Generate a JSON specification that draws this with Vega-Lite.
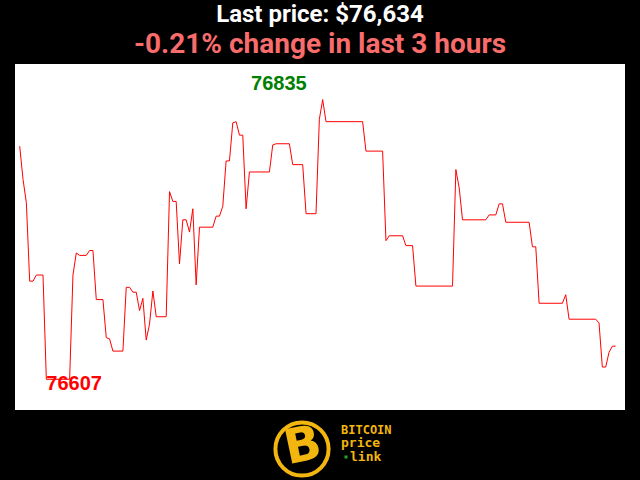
{
  "$schema": "https://vega.github.io/schema/vega-lite/v6.json",
  "background": "black",
  "autosize": {"type": "pad"},
  "padding": {"left": 15, "top": 3, "right": 15, "bottom": 0},
  "spacing": 0,
  "title": {
    "text": "Last price: $76,634",
    "subtitle": "-0.21% change in last 3 hours",
    "anchor": "middle",
    "frame": "group",
    "color": "white",
    "subtitleColor": "#f86c6b",
    "font": "Roboto",
    "subtitleFont": "Roboto",
    "fontSize": 24,
    "subtitleFontSize": 28,
    "fontWeight": "bold",
    "subtitleFontWeight": "bold",
    "offset": 5,
    "subtitlePadding": 4
  },
  "config": {"view": {"stroke": null}},
  "datasets": {
    "prices": [
      {"t":0,"price":76797},{"t":1,"price":76770},{"t":2,"price":76751},{"t":3,"price":76687},{"t":4,"price":76687},
      {"t":5,"price":76692},{"t":7,"price":76692},{"t":8,"price":76607},{"t":15,"price":76607},{"t":16,"price":76692},
      {"t":17,"price":76710},{"t":18,"price":76708},{"t":20,"price":76708},{"t":21,"price":76712},{"t":22,"price":76712},
      {"t":23,"price":76672},{"t":25,"price":76672},{"t":26,"price":76641},{"t":27,"price":76640},{"t":28,"price":76630},
      {"t":31,"price":76630},{"t":32,"price":76682},{"t":33,"price":76682},{"t":34,"price":76678},{"t":35,"price":76678},
      {"t":36,"price":76663},{"t":37,"price":76673},{"t":38,"price":76639},{"t":39,"price":76652},{"t":40,"price":76679},
      {"t":41,"price":76658},{"t":44,"price":76658},{"t":45,"price":76760},{"t":46,"price":76752},{"t":47,"price":76752},
      {"t":48,"price":76701},{"t":49,"price":76737},{"t":50,"price":76737},{"t":51,"price":76727},{"t":52,"price":76746},
      {"t":53,"price":76684},{"t":54,"price":76731},{"t":58,"price":76731},{"t":59,"price":76740},{"t":60,"price":76740},
      {"t":61,"price":76748},{"t":62,"price":76785},{"t":63,"price":76785},{"t":64,"price":76816},{"t":65,"price":76817},
      {"t":66,"price":76806},{"t":67,"price":76806},{"t":68,"price":76746},{"t":69,"price":76776},{"t":75,"price":76776},
      {"t":76,"price":76798},{"t":77,"price":76799},{"t":81,"price":76799},{"t":82,"price":76782},{"t":85,"price":76782},
      {"t":86,"price":76742},{"t":89,"price":76742},{"t":90,"price":76819},{"t":91,"price":76835},{"t":92,"price":76817},
      {"t":103,"price":76817},{"t":104,"price":76793},{"t":109,"price":76793},{"t":110,"price":76720},{"t":111,"price":76724},
      {"t":115,"price":76724},{"t":116,"price":76716},{"t":118,"price":76716},{"t":119,"price":76683},{"t":130,"price":76683},
      {"t":131,"price":76778},{"t":132,"price":76763},{"t":133,"price":76737},{"t":140,"price":76737},{"t":141,"price":76741},
      {"t":143,"price":76741},{"t":144,"price":76750},{"t":145,"price":76750},{"t":146,"price":76735},{"t":153,"price":76735},
      {"t":154,"price":76715},{"t":155,"price":76715},{"t":156,"price":76669},{"t":163,"price":76669},{"t":164,"price":76676},
      {"t":165,"price":76656},{"t":173,"price":76656},{"t":174,"price":76653},{"t":175,"price":76617},{"t":176,"price":76617},
      {"t":177,"price":76629},{"t":178,"price":76634},{"t":179,"price":76634}
    ],
    "extremes": [
      {"t":91,"price":76835,"label":"76835","kind":"high"},
      {"t":8,"price":76607,"label":"76607","kind":"low"}
    ]
  },
  "vconcat": [
    {
      "width": 610,
      "height": 346,
      "view": {"fill": "white", "stroke": null},
      "layer": [
        {
          "data": {"name": "prices"},
          "mark": {"type": "line", "color": "#ff0000", "strokeWidth": 1, "interpolate": "linear"},
          "encoding": {
            "x": {"field": "t", "type": "quantitative", "scale": {"domain": [-1.41, 181.8], "nice": false, "zero": false}, "axis": null},
            "y": {"field": "price", "type": "quantitative", "scale": {"domain": [76582, 76864], "nice": false, "zero": false}, "axis": null}
          }
        },
        {
          "data": {"name": "extremes"},
          "transform": [{"filter": "datum.kind === 'high'"}],
          "mark": {"type": "text", "font": "Liberation Sans", "fontWeight": "bold", "fontSize": 20, "color": "#008000", "align": "right", "baseline": "middle", "dx": -16, "dy": -16},
          "encoding": {
            "x": {"field": "t", "type": "quantitative"},
            "y": {"field": "price", "type": "quantitative"},
            "text": {"field": "label"}
          }
        },
        {
          "data": {"name": "extremes"},
          "transform": [{"filter": "datum.kind === 'low'"}],
          "mark": {"type": "text", "font": "Liberation Sans", "fontWeight": "bold", "fontSize": 20, "color": "#ff0000", "align": "left", "baseline": "middle", "dx": 0, "dy": 5},
          "encoding": {
            "x": {"field": "t", "type": "quantitative"},
            "y": {"field": "price", "type": "quantitative"},
            "text": {"field": "label"}
          }
        }
      ]
    },
    {
      "width": 610,
      "height": 70,
      "data": {"values": [{}]},
      "view": {"fill": null, "stroke": null},
      "layer": [
        {
          "mark": {"type": "point", "shape": "circle", "filled": false, "stroke": "#f3b60e", "strokeWidth": 4, "fill": "black", "fillOpacity": 1, "size": 2830, "opacity": 1},
          "encoding": {
            "x": {"datum": 287, "type": "quantitative", "scale": {"domain": [0, 610], "nice": false, "zero": false}, "axis": null},
            "y": {"datum": 39, "type": "quantitative", "scale": {"domain": [70, 0], "nice": false, "zero": false}, "axis": null}
          }
        },
        {
          "mark": {"type": "text", "text": "B", "font": "DejaVu Sans", "fontWeight": "bold", "fontSize": 48, "color": "#f3b60e", "align": "center", "baseline": "middle", "angle": -12},
          "encoding": {
            "x": {"datum": 288, "type": "quantitative"},
            "y": {"datum": 37, "type": "quantitative"}
          }
        },
        {
          "mark": {"type": "text", "text": "BITCOIN", "font": "DejaVu Sans Mono", "fontWeight": "bold", "fontSize": 12, "color": "#f3b60e", "align": "left", "baseline": "middle"},
          "encoding": {
            "x": {"datum": 326, "type": "quantitative"},
            "y": {"datum": 19.5, "type": "quantitative"}
          }
        },
        {
          "mark": {"type": "text", "text": "price", "font": "DejaVu Sans Mono", "fontWeight": "bold", "fontSize": 13, "color": "#f3b60e", "align": "left", "baseline": "middle"},
          "encoding": {
            "x": {"datum": 326, "type": "quantitative"},
            "y": {"datum": 33, "type": "quantitative"}
          }
        },
        {
          "mark": {"type": "text", "text": "link", "font": "DejaVu Sans Mono", "fontWeight": "bold", "fontSize": 13, "color": "#f3b60e", "align": "left", "baseline": "middle"},
          "encoding": {
            "x": {"datum": 335, "type": "quantitative"},
            "y": {"datum": 47, "type": "quantitative"}
          }
        },
        {
          "mark": {"type": "square", "color": "#22aa22", "size": 9, "opacity": 1},
          "encoding": {
            "x": {"datum": 331, "type": "quantitative"},
            "y": {"datum": 47, "type": "quantitative"}
          }
        }
      ]
    }
  ]
}
